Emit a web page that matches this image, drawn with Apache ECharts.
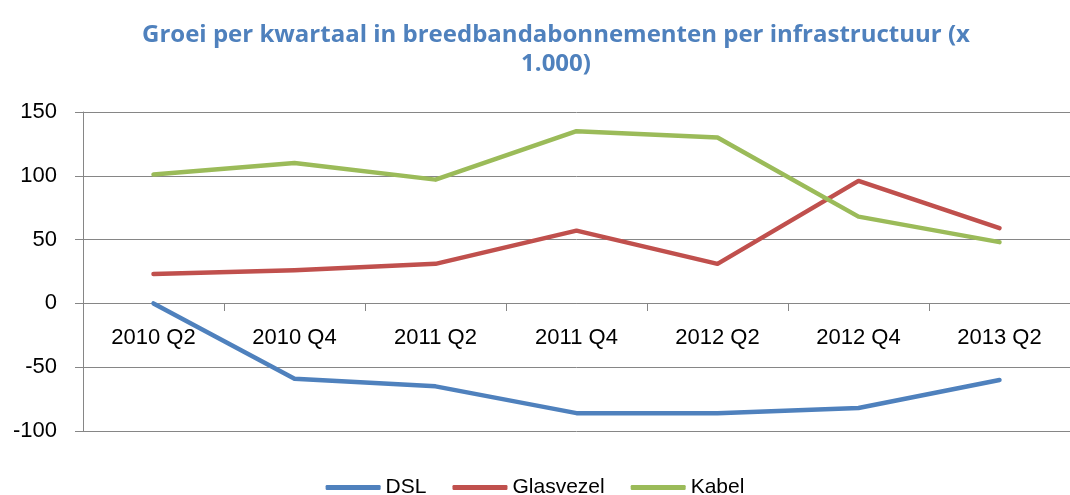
<!DOCTYPE html>
<html>
<head>
<meta charset="utf-8">
<script src="https://cdn.jsdelivr.net/npm/echarts@6/dist/echarts.min.js"></script>
<style>
  html, body { margin: 0; padding: 0; background: #fff; }
  #chart { width: 1070px; height: 495px; }
</style>
</head>
<body>
<div id="chart"></div>
<script>
var quarters = ['2010 Q2', '2010 Q4', '2011 Q2', '2011 Q4', '2012 Q2', '2012 Q4', '2013 Q2'];
var dsl = [0, -59, -65, -86, -86, -82, -60];
var glasvezel = [23, 26, 31, 57, 31, 96, 59];
var kabel = [101, 110, 97, 135, 130, 68, 48];

var font = 'Liberation Sans';
var chart = echarts.init(document.getElementById('chart'));

function line(name, data, color) {
  return {
    name: name,
    type: 'line',
    data: data,
    symbol: 'none',
    lineStyle: { color: color, width: 4.5, cap: 'round', join: 'round' },
    itemStyle: { color: color }
  };
}

chart.setOption({
  animation: false,
  title: {
    text: 'Groei per kwartaal in breedbandabonnementen per infrastructuur (x\n1.000)',
    left: 551,
    top: 16,
    textAlign: 'center',
    textStyle: {
      color: '#4F81BD',
      fontFamily: 'Open Sans',
      fontWeight: 'bold',
      fontSize: 24,
      lineHeight: 29
    }
  },
  legend: {
    top: 472,
    left: 'center',
    itemWidth: 55,
    itemHeight: 5,
    itemGap: 26,
    icon: 'roundRect',
    textStyle: { fontFamily: font, fontSize: 21, color: '#000' },
    data: ['DSL', 'Glasvezel', 'Kabel']
  },
  grid: { left: 83, top: 112, width: 990, height: 319, containLabel: false },
  xAxis: {
    type: 'category',
    data: quarters,
    boundaryGap: true,
    // axis sits on the zero line (128px above the bottom)
    offset: -128,
    axisLine: { onZero: false, lineStyle: { color: '#868686', width: 1 } },
    axisTick: { show: true, length: 8, alignWithLabel: false, lineStyle: { color: '#868686' } },
    axisLabel: { color: '#000', fontFamily: font, fontSize: 22, margin: 24 }
  },
  yAxis: {
    type: 'value',
    min: -100,
    max: 150,
    interval: 50,
    axisLine: { show: true, lineStyle: { color: '#868686', width: 1 } },
    axisTick: { show: true, length: 8, lineStyle: { color: '#868686' } },
    axisLabel: { color: '#000', fontFamily: font, fontSize: 22, margin: 26 },
    splitLine: { lineStyle: { color: '#868686', width: 1 } }
  },
  series: [
    line('DSL', dsl, '#4F81BD'),
    line('Glasvezel', glasvezel, '#C0504D'),
    line('Kabel', kabel, '#9BBB59')
  ]
});
</script>
</body>
</html>
